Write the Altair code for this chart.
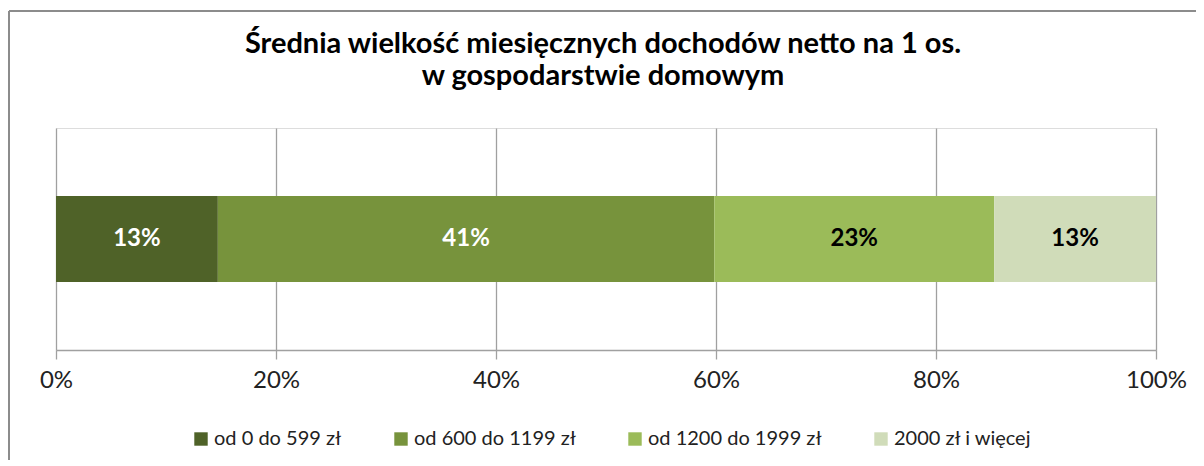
import altair as alt
import pandas as pd

categories = ["od 0 do 599 zł", "od 600 do 1199 zł", "od 1200 do 1999 zł", "2000 zł i więcej"]
values = [13.3, 40.8, 23.0, 13.3]
labels = ["13%", "41%", "23%", "13%"]
colors = ["#4f6228", "#77933c", "#9bbb59", "#d0dcb9"]
text_colors = ["#ffffff", "#ffffff", "#000000", "#000000"]
title_lines = ["Średnia wielkość miesięcznych dochodów netto na 1 os.", "w gospodarstwie domowym"]

df = pd.DataFrame({
    "cat": categories,
    "value": values,
    "label": labels,
    "order": list(range(len(categories))),
    "tcolor": text_colors,
    "grp": ["a"] * len(categories),
})

FONT = "Lato"

base = alt.Chart(df).transform_stack(
    stack="value", as_=["x0", "x1"], groupby=["grp"],
    sort=[alt.SortField("order")], offset="normalize"
).transform_calculate(mid="(datum.x0 + datum.x1) / 2")

xscale = alt.Scale(domain=[0, 1], nice=False, zero=True)

bars = base.mark_bar(size=86).encode(
    x=alt.X("x0:Q", scale=xscale, title=None,
            axis=alt.Axis(format="%", values=[0, 0.2, 0.4, 0.6, 0.8, 1.0],
                          grid=True, gridColor="#a0a0a0", gridWidth=1.3,
                          domainColor="#a0a0a0", domainWidth=1.3,
                          tickColor="#a0a0a0", tickSize=9, tickWidth=1.3,
                          labelFontSize=24, labelColor="#222222", labelFont=FONT,
                          labelPadding=9, labelFlush=False)),
    x2="x1:Q",
    y=alt.Y("grp:N", axis=None),
    color=alt.Color("cat:N", sort=categories,
                    scale=alt.Scale(domain=categories, range=colors),
                    legend=alt.Legend(title=None, orient="none", legendX=135, legendY=301,
                                      direction="horizontal", symbolType="square",
                                      symbolSize=180, symbolStrokeWidth=0,
                                      labelFontSize=20, labelFont=FONT, labelColor="#222222",
                                      labelLimit=0, labelOffset=3, columnPadding=49)),
)

texts = base.mark_text(fontSize=24, fontWeight="bold", font=FONT).encode(
    x=alt.X("mid:Q", scale=xscale),
    y=alt.Y("grp:N", axis=None),
    text="label:N",
    color=alt.Color("tcolor:N", scale=None),
)

title = alt.Chart(df.head(1)).mark_text(
    text=title_lines, fontSize=29, font=FONT, fontWeight="bold", color="#000000",
    lineHeight=32, align="center", baseline="middle",
).encode(x=alt.value(547), y=alt.value(-84))

frame_v = alt.Chart(df.head(1)).mark_rule(color="#8c8c8c", strokeWidth=2).encode(
    x=alt.value(-47), y=alt.value(-117), y2=alt.value(340)
)
frame_h = alt.Chart(df.head(1)).mark_rule(color="#8c8c8c", strokeWidth=2).encode(
    x=alt.value(-47), x2=alt.value(1150), y=alt.value(-117)
)

chart = alt.layer(frame_v, frame_h, bars, texts, title).properties(
    width=1100, height=222,
    autosize=alt.AutoSizeParams(type="none"),
    padding={"left": 48, "top": 120, "right": 40, "bottom": 110},
).configure_view(stroke=None).configure(background="#ffffff")

chart.save("out.html", embed_options={"renderer": "svg", "actions": False})
